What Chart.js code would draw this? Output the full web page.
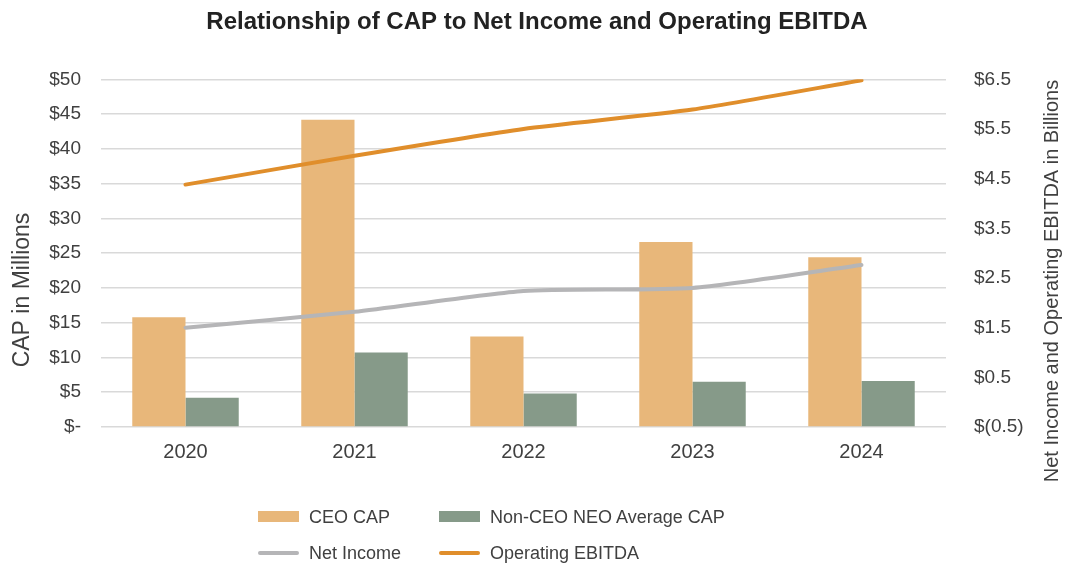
<!DOCTYPE html>
<html>
<head>
<meta charset="utf-8">
<script src="https://cdn.jsdelivr.net/npm/chart.js@4/dist/chart.umd.min.js"></script>
<style>
  html, body { margin: 0; padding: 0; background: #fff; }
  #wrap { position: relative; width: 1070px; height: 569px; font-family: "Liberation Sans", Arial, sans-serif; }
  #chart { position: absolute; left: 0; top: 0; }
  .leg { position: absolute; font-size: 18px; color: #404040; line-height: 20px; white-space: nowrap; }
  .sw { position: absolute; }
</style>
</head>
<body>
<div id="wrap">
  <canvas id="chart" width="1070" height="569"></canvas>
  <div id="legend"></div>
</div>
<script>
var years = ['2020', '2021', '2022', '2023', '2024'];
var ceoCap = [15.8, 44.2, 13.0, 26.6, 24.4];
var nonCeoCap = [4.2, 10.7, 4.8, 6.5, 6.6];
var netIncome = [1.5, 1.82, 2.24, 2.3, 2.76];
var opEbitda = [4.38, 4.96, 5.5, 5.89, 6.48];

var colors = {
  ceo: '#E8B77A',
  nonCeo: '#869A89',
  net: '#B5B5B7',
  ebitda: '#E08E2B'
};

var fontFamily = '"Liberation Sans", Arial, sans-serif';
var textColor = '#404040';

var leftTick = function (value) {
  if (value === 0) {
    return '$-';
  }
  return '$' + value;
};

var rightTick = function (value) {
  var v = Math.round(value * 10) / 10;
  if (v < 0) {
    return '$(' + Math.abs(v).toFixed(1) + ')';
  }
  return '$' + v.toFixed(1);
};

// axis titles sit a bit below the middle of the plot, like the original
var axisTitles = {
  id: 'axisTitles',
  afterDraw: function (chart) {
    var c = chart.ctx;
    c.save();
    c.fillStyle = textColor;
    c.textAlign = 'center';
    c.textBaseline = 'middle';

    c.font = '23px ' + fontFamily;
    c.translate(23, 290);
    c.rotate(-Math.PI / 2);
    c.fillText('CAP in Millions', 0, 0);
    c.restore();

    c.save();
    c.fillStyle = textColor;
    c.textAlign = 'center';
    c.textBaseline = 'middle';
    c.font = '20px ' + fontFamily;
    c.translate(1052, 281);
    c.rotate(-Math.PI / 2);
    c.fillText('Net Income and Operating EBITDA in Billions', 0, 0);
    c.restore();
  }
};

var config = {
  type: 'bar',
  data: {
    labels: years,
    datasets: [
      {
        type: 'line',
        label: 'Net Income',
        data: netIncome,
        yAxisID: 'y1',
        borderColor: colors.net,
        backgroundColor: colors.net,
        borderWidth: 4,
        borderCapStyle: 'round',
        pointRadius: 0,
        tension: 0.2,
        order: 0
      },
      {
        type: 'line',
        label: 'Operating EBITDA',
        data: opEbitda,
        yAxisID: 'y1',
        borderColor: colors.ebitda,
        backgroundColor: colors.ebitda,
        borderWidth: 4,
        borderCapStyle: 'round',
        pointRadius: 0,
        tension: 0.2,
        order: 0
      },
      {
        label: 'CEO CAP',
        data: ceoCap,
        yAxisID: 'y',
        backgroundColor: colors.ceo,
        categoryPercentage: 0.63,
        barPercentage: 1.0,
        order: 1
      },
      {
        label: 'Non-CEO NEO Average CAP',
        data: nonCeoCap,
        yAxisID: 'y',
        backgroundColor: colors.nonCeo,
        categoryPercentage: 0.63,
        barPercentage: 1.0,
        order: 1
      }
    ]
  },
  options: {
    responsive: false,
    animation: false,
    layout: {
      padding: { top: 0, left: 5, right: 1, bottom: 100 }
    },
    plugins: {
      legend: { display: false },
      tooltip: { enabled: false },
      title: {
        display: true,
        text: 'Relationship of CAP to Net Income and Operating EBITDA',
        color: '#222',
        font: { family: fontFamily, size: 24, weight: 'bold' },
        padding: { top: 8, bottom: 42.5 }
      }
    },
    scales: {
      x: {
        grid: { display: false },
        border: { display: false },
        ticks: {
          color: textColor,
          font: { family: fontFamily, size: 20 },
          padding: 5
        }
      },
      y: {
        position: 'left',
        min: 0,
        max: 50,
        afterFit: function (scale) { scale.width = 96; },
        grid: { color: '#D9D9D9', lineWidth: 1.5, drawTicks: false },
        border: { display: false },
        ticks: {
          stepSize: 5,
          color: textColor,
          font: { family: fontFamily, size: 19 },
          padding: 20,
          callback: leftTick
        }
      },
      y1: {
        position: 'right',
        min: -0.5,
        max: 6.5,
        afterFit: function (scale) { scale.width = 123; },
        grid: { display: false, drawOnChartArea: false },
        border: { display: false },
        ticks: {
          stepSize: 1,
          color: textColor,
          font: { family: fontFamily, size: 19 },
          padding: 20,
          callback: rightTick
        }
      }
    }
  },
  plugins: [axisTitles]
};

var ctx = document.getElementById('chart').getContext('2d');
var chart = new Chart(ctx, config);

// legend in two aligned columns, built from the datasets
var legendItems = [
  { ds: 2, kind: 'box', x: 258, y: 517 },
  { ds: 3, kind: 'box', x: 439, y: 517 },
  { ds: 0, kind: 'line', x: 258, y: 553 },
  { ds: 1, kind: 'line', x: 439, y: 553 }
];
var legendEl = document.getElementById('legend');
legendItems.forEach(function (item) {
  var ds = chart.data.datasets[item.ds];
  var sw = document.createElement('div');
  sw.className = 'sw';
  sw.style.left = item.x + 'px';
  sw.style.width = '41px';
  if (item.kind === 'box') {
    sw.style.top = (item.y - 6) + 'px';
    sw.style.height = '11px';
    sw.style.background = ds.backgroundColor;
  } else {
    sw.style.top = (item.y - 2) + 'px';
    sw.style.height = '4px';
    sw.style.borderRadius = '2px';
    sw.style.background = ds.borderColor;
  }
  legendEl.appendChild(sw);
  var tx = document.createElement('div');
  tx.className = 'leg';
  tx.style.left = (item.x + 51) + 'px';
  tx.style.top = (item.y - 10) + 'px';
  tx.textContent = ds.label;
  legendEl.appendChild(tx);
});
</script>
</body>
</html>
